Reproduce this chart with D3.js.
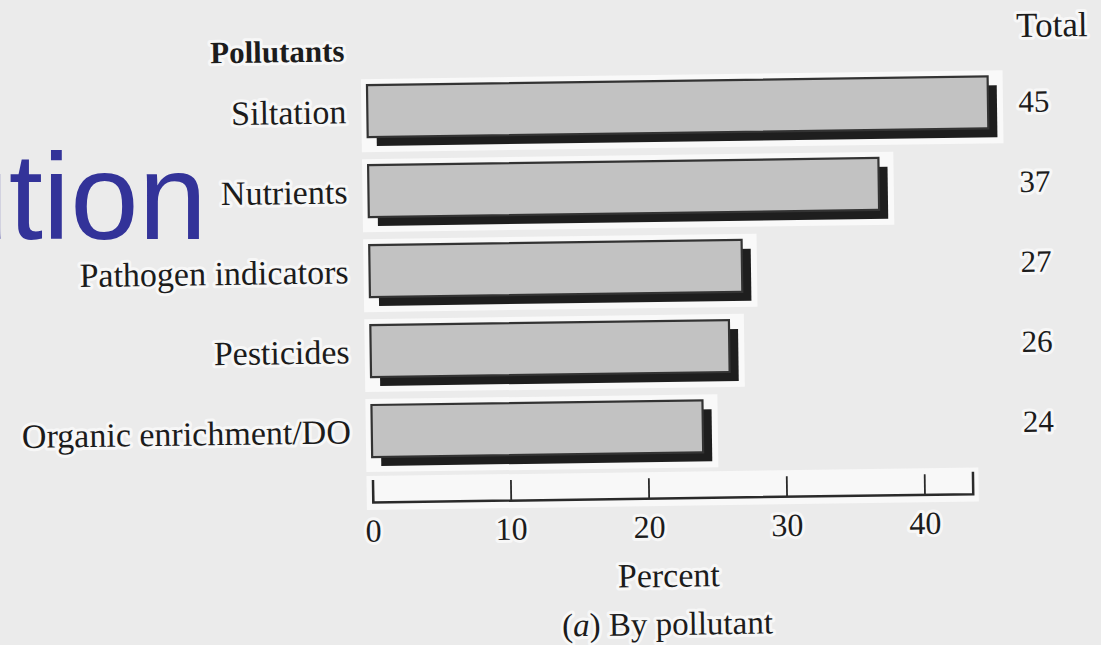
<!DOCTYPE html>
<html>
<head>
<meta charset="utf-8">
<script src="https://cdn.jsdelivr.net/npm/d3@7/dist/d3.min.js"></script>
<style>
  html, body { margin: 0; padding: 0; background: #ebebeb; }
  svg { display: block; }
  .serif { font-family: "Liberation Serif", "Times New Roman", serif; fill: #1c1c1c; }
  .halo { paint-order: stroke; stroke: #f7f7f7; stroke-width: 6px; stroke-linejoin: round; }
</style>
</head>
<body>
<svg id="chart" width="1101" height="645"></svg>
<script>
// Impaired river miles by pollutant (percent)
const categories = ["Siltation", "Nutrients", "Pathogen indicators", "Pesticides", "Organic enrichment/DO"];
const totals = [45, 37, 27, 26, 24];
const tickValues = [0, 10, 20, 30, 40];
const tickLabels = ["0", "10", "20", "30", "40"];

const W = 1101, H = 645;
const svg = d3.select("#chart");

svg.append("rect").attr("width", W).attr("height", H).attr("fill", "#ebebeb");

// Slide title fragment in the upper-left
svg.append("text")
  .attr("x", 207).attr("y", 239)
  .attr("text-anchor", "end")
  .style("font-family", "'Liberation Sans', Arial, sans-serif")
  .style("font-size", "123px")
  .attr("fill", "#333399")
  .text("ution");

// The printed figure sits slightly askew on the page
const fig = svg.append("g").attr("transform", "rotate(-0.8, 660, 300)");

const x = d3.scaleLinear().domain([0, 43.5]).range([370, 970]);
const y = d3.scaleBand().domain(categories).range([67, 467]).paddingInner(0.35).paddingOuter(0.175);

const shadow = 9;
const rows = categories.map((c, i) => ({ name: c, value: totals[i] }));

// White backing behind each bar
fig.selectAll("rect.back").data(rows).join("rect")
  .attr("class", "back")
  .attr("x", x(0) - 6)
  .attr("y", d => y(d.name) - 6)
  .attr("width", d => x(d.value) - x(0) + shadow + 12)
  .attr("height", y.bandwidth() + shadow + 12)
  .attr("fill", "#f9f9f9");

// Drop shadows
fig.selectAll("rect.shadow").data(rows).join("rect")
  .attr("class", "shadow")
  .attr("x", x(0) + shadow)
  .attr("y", d => y(d.name) + shadow)
  .attr("width", d => x(d.value) - x(0))
  .attr("height", y.bandwidth())
  .attr("fill", "#1e1e1e");

// Bar faces
fig.selectAll("rect.bar").data(rows).join("rect")
  .attr("class", "bar")
  .attr("x", x(0))
  .attr("y", d => y(d.name))
  .attr("width", d => x(d.value) - x(0))
  .attr("height", y.bandwidth())
  .attr("fill", "#c2c2c2")
  .attr("stroke", "#333")
  .attr("stroke-width", 2.2);

// Category labels
fig.selectAll("text.cat").data(rows).join("text")
  .attr("class", "cat serif halo")
  .attr("x", 349)
  .attr("y", d => y(d.name) + y.bandwidth() / 2 + 12)
  .attr("text-anchor", "end")
  .style("font-size", "34px")
  .text(d => d.name);

fig.append("text")
  .attr("class", "serif halo")
  .attr("x", 348).attr("y", 57)
  .attr("text-anchor", "end")
  .style("font-size", "31px")
  .style("font-weight", "bold")
  .text("Pollutants");

// Totals column
fig.append("text")
  .attr("class", "serif halo")
  .attr("x", 1020).attr("y", 42)
  .style("font-size", "35px")
  .text("Total");

fig.selectAll("text.total").data(rows).join("text")
  .attr("class", "total serif halo")
  .attr("x", 1021)
  .attr("y", d => y(d.name) + y.bandwidth() / 2 + 10)
  .style("font-size", "31px")
  .text(d => d.value);

// Axis
const axisY = 498;
fig.append("rect")
  .attr("x", x.range()[0] - 6).attr("y", axisY - 26)
  .attr("width", x.range()[1] - x.range()[0] + 12).attr("height", 34)
  .attr("fill", "#f8f8f8");

const axis = d3.axisBottom(x)
  .tickValues(tickValues)
  .tickFormat((d, i) => tickLabels[i])
  .tickSizeInner(-20)
  .tickSizeOuter(-22)
  .tickPadding(17);

const ag = fig.append("g").attr("transform", `translate(0,${axisY})`).call(axis);
ag.select(".domain").attr("stroke", "#2a2a2a").attr("stroke-width", 2.5);
ag.selectAll(".tick line").attr("stroke", "#2a2a2a").attr("stroke-width", 1.8);
ag.selectAll(".tick text")
  .attr("class", "serif halo")
  .attr("fill", "#1c1c1c")
  .style("font-size", "32px");
ag.attr("font-family", null).attr("font-size", null);

fig.append("text")
  .attr("class", "serif halo")
  .attr("x", 665).attr("y", 587)
  .attr("text-anchor", "middle")
  .style("font-size", "34px")
  .text("Percent");

const cap = fig.append("text")
  .attr("class", "serif halo")
  .attr("x", 663).attr("y", 635)
  .attr("text-anchor", "middle")
  .style("font-size", "33px");
cap.append("tspan").text("(");
cap.append("tspan").style("font-style", "italic").text("a");
cap.append("tspan").text(") By pollutant");
</script>
</body>
</html>
